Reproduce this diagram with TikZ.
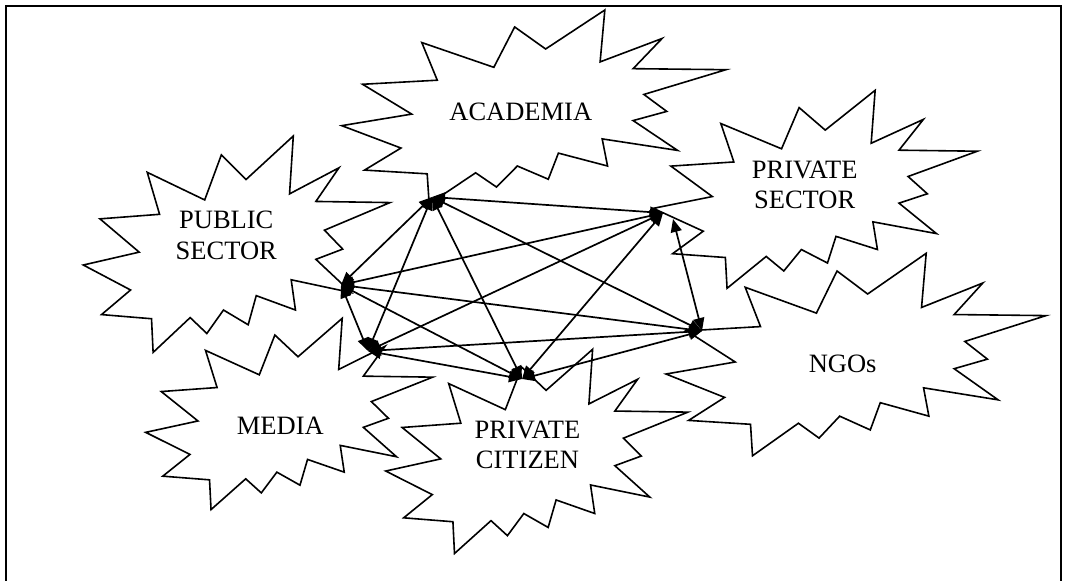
\documentclass[tikz,border=0pt]{standalone}
\usepackage{fontspec}
\setmainfont{Liberation Serif}
\usetikzlibrary{arrows.meta}

% Explosion outline in a unit box, placed at (#1,#2) with width #3 and height #4
\newcommand\drawseal[4]{%
  \begin{scope}[shift={(#1,#2)},xscale=#3,yscale=#4]
    \path[seal] (0.53065,0.20102) -- (0.68472,0) -- (0.67245,0.26745)
      -- (0.83366,0.14685) -- (0.75833,0.30241) -- (1,0.30764)
      -- (0.78634,0.43528) -- (0.84583,0.52269) -- (0.75833,0.56991)
      -- (0.87394,0.72370) -- (0.67778,0.66435) -- (0.69176,0.80417)
      -- (0.56389,0.73773) -- (0.53759,0.87231) -- (0.45704,0.80417)
      -- (0.40278,0.91259) -- (0.34847,0.83912) -- (0.22764,1)
      -- (0.22245,0.84444) -- (0.05949,0.82523) -- (0.15417,0.71157)
      -- (0,0.59616) -- (0.18218,0.53667) -- (0.05426,0.38287)
      -- (0.24870,0.36190) -- (0.20843,0.16782) -- (0.39583,0.29546)
      -- (0.45009,0.08736) -- cycle;
  \end{scope}}

\begin{document}
\begin{tikzpicture}[x=1pt,y=-1pt,
  seal/.style={draw=black,fill=white,line width=1.6pt},
  sealtext/.style={font=\fontsize{26.5}{30.5}\selectfont,align=center,inner sep=0pt},
  tie/.style={line width=1.7pt,
    {Triangle[length=13pt,width=11pt]}-{Triangle[length=13pt,width=11pt]}}]
\useasboundingbox (0,0) rectangle (1066,581);
\fill[white] (0,0) rectangle (1066,581);

% open frame
\draw[line width=2pt] (6,581) -- (6,6) -- (1061,6) -- (1061,581);

% explosions
\drawseal{83.3}{136}{306.7}{216.4}
\drawseal{341.7}{10}{384.3}{194}
\drawseal{653.3}{90.3}{324}{198}
\drawseal{666}{253.3}{380}{202.5}
\drawseal{145.7}{318.3}{287}{191.3}
\drawseal{385.7}{349.3}{302.2}{204.2}

% labels
\node[sealtext] (academia) at (520.8,112) {ACADEMIA};
\node[sealtext] (privsec) at (804.7,184.7) {PRIVATE\\SECTOR};
\node[sealtext] (pubsec) at (226.3,235.6) {PUBLIC\\SECTOR};
\node[sealtext] (ngos) at (842.7,363.5) {NGOs};
\node[sealtext] (media) at (280.3,425.3) {MEDIA};
\node[sealtext] (citizen) at (527.5,444.8) {PRIVATE\\CITIZEN};

% hubs where the links meet
\coordinate (hA) at (432,197);
\coordinate (hS) at (663,213);
\coordinate (hS2) at (673,219);
\coordinate (hP) at (341,285);
\coordinate (hN) at (702,331);
\coordinate (hM) at (368,351);
\coordinate (hC) at (522,379);

% every sector is linked with every other
\foreach \u/\v in {hA/hS,hA/hP,hA/hM,hA/hC,hA/hN,
                   hS/hP,hS/hM,hS/hC,hS2/hN,
                   hP/hN,hP/hM,hP/hC,
                   hM/hN,hM/hC,
                   hN/hC}
  \draw[tie] (\u) -- (\v);
\end{tikzpicture}
\end{document}
